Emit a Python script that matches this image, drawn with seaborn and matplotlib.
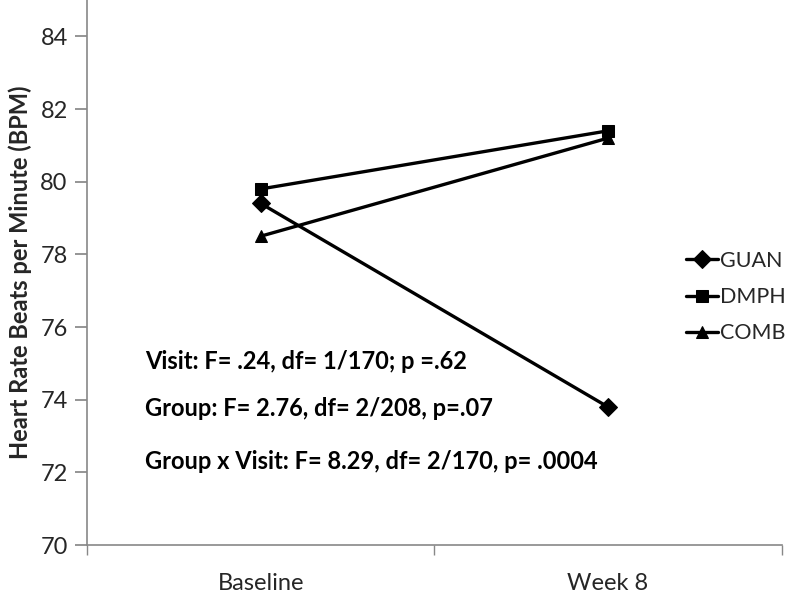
import numpy as np
import pandas as pd
import matplotlib
import matplotlib.pyplot as plt
import seaborn as sns

matplotlib.use("Agg")

# 数据
visits = ["Baseline", "Week 8"]
groups = ["GUAN", "DMPH", "COMB"]
guan_hr = [79.4, 73.8]
dmph_hr = [79.8, 81.4]
comb_hr = [78.5, 81.2]

stats_lines = [
    "Visit: F= .24, df= 1/170; p =.62",
    "Group: F= 2.76, df= 2/208, p=.07",
    "Group x Visit: F= 8.29, df= 2/170, p= .0004",
]
stats_y = [75.05, 73.75, 72.3]

df = pd.DataFrame({
    "visit": visits * 3,
    "x": [0, 1] * 3,
    "group": np.repeat(groups, 2),
    "hr": guan_hr + dmph_hr + comb_hr,
})

sns.set_theme(style="white")
plt.rcParams["font.family"] = ["Lato", "DejaVu Sans"]

fig = plt.figure(figsize=(7.92, 5.97), dpi=100)
ax = fig.add_axes([0.110, 0.087, 0.877, 0.913])

sns.lineplot(
    data=df, x="x", y="hr", hue="group", style="group",
    hue_order=groups, style_order=groups,
    palette=["black"] * 3, markers={"GUAN": "D", "DMPH": "s", "COMB": "^"},
    dashes=False, linewidth=2.4, markersize=9, markeredgecolor="black",
    ax=ax,
)

ax.set_xlim(-0.5, 1.5)
ax.set_ylim(70, 85)
ax.set_yticks(np.arange(70, 85, 2))
ax.set_xticks([0, 1])
ax.set_xticklabels(visits)
ax.set_xticks([-0.5, 0.5, 1.5], minor=True)
ax.tick_params(axis="x", which="major", length=0, pad=20, labelsize=17)
ax.tick_params(axis="x", which="minor", length=7, color="#888888", direction="out", bottom=True)
ax.tick_params(axis="y", length=9, color="#888888", direction="out", left=True, labelsize=17, pad=5)

for side in ["top", "right"]:
    ax.spines[side].set_visible(False)
for side in ["left", "bottom"]:
    ax.spines[side].set_color("#888888")
    ax.spines[side].set_linewidth(1.2)

ax.set_xlabel("")
ax.set_ylabel("Heart Rate Beats per Minute (BPM)", fontsize=17, fontweight="bold", labelpad=6)

# 统计结果文字
for line, yv in zip(stats_lines, stats_y):
    ax.text(-0.333, yv, line, fontsize=17, fontweight="bold",
            ha="left", va="center", color="black")

leg = ax.legend(
    loc="center left", bbox_to_anchor=(0.862, 0.455), frameon=False,
    fontsize=15.5, handlelength=1.5, handletextpad=0.1, labelspacing=0.75,
    borderpad=0, borderaxespad=0,
)
for h in leg.legend_handles:
    h.set_color("black")

fig.savefig("out.png", dpi=100)
